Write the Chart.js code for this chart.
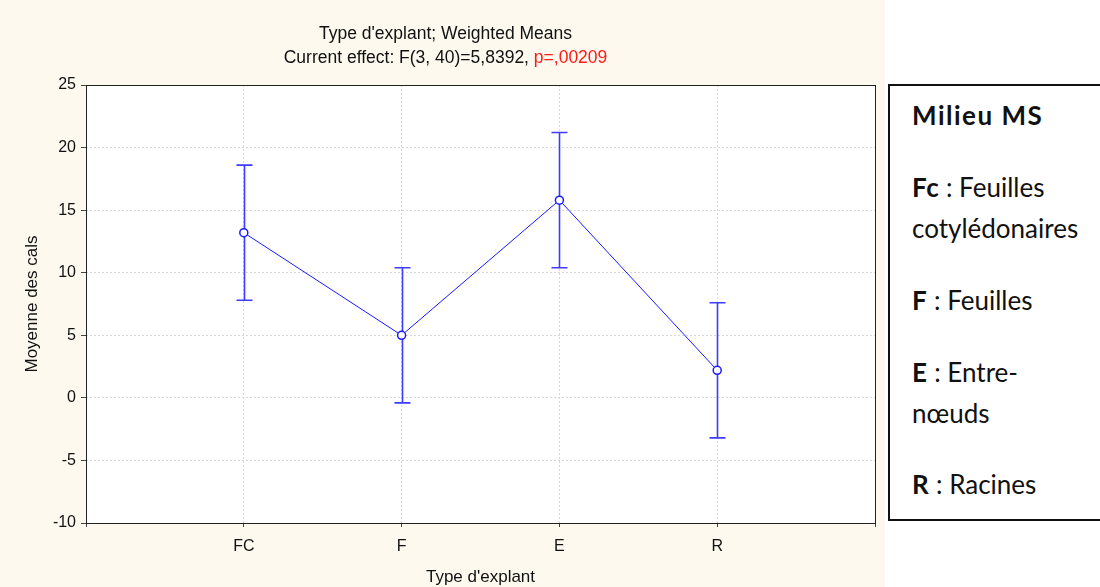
<!DOCTYPE html>
<html>
<head>
<meta charset="utf-8">
<script src="https://cdn.jsdelivr.net/npm/chart.js@4.4.1/dist/chart.umd.min.js"></script>
<style>
  html, body { margin: 0; padding: 0; background: #ffffff; }
  #wrap { position: relative; width: 1100px; height: 587px; }
  #chartBox { position: absolute; left: 0; top: 0; width: 885px; height: 587px; }
  #legendBox {
    position: absolute; left: 888px; top: 84px; width: 230px; height: 437px;
    box-sizing: border-box; border: 2px solid #111; background: #fff;
    font-family: 'Lato', 'Open Sans', sans-serif; font-size: 26px; color: #111;
  }
  #legendBox p { margin: 0; position: absolute; left: 22px; line-height: 30px; white-space: nowrap; }
  #legendBox b { letter-spacing: 0.6px; }
</style>
</head>
<body>
<div id="wrap">
  <div id="chartBox"><canvas id="meansChart" width="885" height="587"></canvas></div>
  <div id="legendBox">
    <p style="top:14px"><b style="letter-spacing:1.5px">Milieu MS</b></p>
    <p style="top:86px"><b>Fc</b> : Feuilles</p>
    <p style="top:127px">cotylédonaires</p>
    <p style="top:199px"><b>F</b> : Feuilles</p>
    <p style="top:271px"><b>E</b> : Entre-</p>
    <p style="top:312px">nœuds</p>
    <p style="top:383px"><b>R</b> : Racines</p>
  </div>
</div>
<script>
// Weighted means per explant type, with confidence interval bounds
const categories = ['FC', 'F', 'E', 'R'];
const means = [13.2, 5.0, 15.8, 2.2];
const upper = [18.6, 10.4, 21.2, 7.6];
const lower = [7.8, -0.4, 10.4, -3.2];
const yTicks = [-10, -5, 0, 5, 10, 15, 20, 25];

const blue = '#1a1aff';
const font = "'Liberation Sans', Arial, sans-serif";

// cream page background, white plot area
const backdrop = {
    id: 'backdrop',
    beforeDraw(chart) {
        const c = chart.ctx, a = chart.chartArea;
        c.save();
        c.fillStyle = '#fdf9ef';
        c.fillRect(0, 0, chart.width, chart.height);
        c.fillStyle = '#ffffff';
        c.fillRect(a.left, a.top, a.right - a.left, a.bottom - a.top);
        c.restore();
    },
    afterDraw(chart) {
        const c = chart.ctx, a = chart.chartArea;
        c.save();
        c.strokeStyle = '#222';
        c.lineWidth = 1;
        c.strokeRect(Math.round(a.left) + 0.5, Math.round(a.top) + 0.5,
            Math.round(a.right - a.left), Math.round(a.bottom - a.top));
        // two-line heading, p value in red
        c.font = '17.5px ' + font;
        c.textBaseline = 'middle';
        c.textAlign = 'center';
        c.fillStyle = '#111';
        const cx = chart.width / 2 + 3;
        c.fillText("Type d'explant; Weighted Means", cx, 34);
        const t1 = 'Current effect: F(3, 40)=5,8392, ';
        const t2 = 'p=,00209';
        const w1 = c.measureText(t1).width, w2 = c.measureText(t2).width;
        const x0 = cx - (w1 + w2) / 2;
        c.textAlign = 'left';
        c.fillText(t1, x0, 58);
        c.fillStyle = '#ff1a1a';
        c.fillText(t2, x0 + w1, 58);
        c.restore();
    }
};

// vertical interval bars with caps, drawn under the points
const errorBars = {
    id: 'errorBars',
    beforeDatasetsDraw(chart) {
        const c = chart.ctx, xs = chart.scales.x, ys = chart.scales.y;
        c.save();
        c.strokeStyle = '#3c3cff';
        c.lineWidth = 1.6;
        categories.forEach((cat, i) => {
            const x = Math.round(xs.getPixelForValue(i + 1)) + 0.5;
            const yt = ys.getPixelForValue(upper[i]);
            const yb = ys.getPixelForValue(lower[i]);
            c.beginPath();
            c.moveTo(x, yt); c.lineTo(x, yb);
            c.moveTo(x - 8, yt); c.lineTo(x + 8, yt);
            c.moveTo(x - 8, yb); c.lineTo(x + 8, yb);
            c.stroke();
        });
        c.restore();
    }
};

const ctx = document.getElementById('meansChart').getContext('2d');
const meansChart = new Chart(ctx, {
    type: 'line',
    data: {
        datasets: [{
            data: means.map((m, i) => ({ x: i + 1, y: m })),
            borderColor: blue,
            borderWidth: 1,
            backgroundColor: '#ffffff',
            pointBackgroundColor: '#ffffff',
            pointBorderColor: blue,
            pointBorderWidth: 1.5,
            pointRadius: 4,
            tension: 0,
            fill: false
        }]
    },
    options: {
        responsive: false,
        animation: false,
        events: [],
        layout: { padding: { top: 85, right: 9, left: 20, bottom: 0 } },
        plugins: { legend: { display: false }, tooltip: { enabled: false }, title: { display: false } },
        scales: {
            x: {
                type: 'linear',
                min: 0,
                max: 5,
                afterBuildTicks(scale) {
                    scale.ticks = [0, 1, 2, 3, 4, 5].map(v => ({ value: v }));
                },
                afterFit(scale) { scale.height = 64; },
                grid: { color: '#d8d8d8', tickLength: 4, tickColor: '#444' },
                border: { display: false, dash: [2, 2] },
                ticks: {
                    color: '#111',
                    font: { family: font, size: 16 },
                    padding: 10,
                    maxRotation: 0,
                    callback: v => categories[v - 1] || ''
                },
                title: {
                    display: true,
                    text: "Type d'explant",
                    color: '#111',
                    font: { family: font, size: 17 },
                    padding: { top: 4, bottom: -1 }
                }
            },
            y: {
                min: -10,
                max: 25,
                afterBuildTicks(scale) {
                    scale.ticks = yTicks.map(v => ({ value: v }));
                },
                afterFit(scale) { scale.width = 66; },
                grid: { color: '#d8d8d8', tickLength: 5, tickColor: '#444' },
                border: { display: false, dash: [2, 2] },
                ticks: {
                    color: '#111',
                    font: { family: font, size: 16 },
                    padding: 5
                },
                title: {
                    display: true,
                    text: 'Moyenne des cals',
                    color: '#111',
                    font: { family: font, size: 17 },
                    padding: { top: 2, bottom: 4 }
                }
            }
        }
    },
    plugins: [backdrop, errorBars]
});
</script>
</body>
</html>
